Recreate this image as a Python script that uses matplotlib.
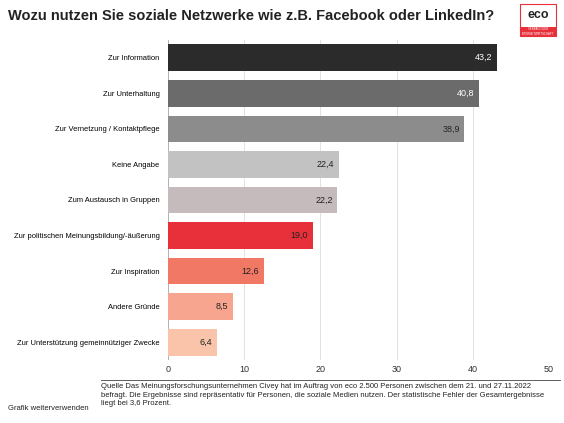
import matplotlib
matplotlib.use("Agg")
import matplotlib.pyplot as plt
from matplotlib.patches import Rectangle

categories = ["Zur Information", "Zur Unterhaltung", "Zur Vernetzung / Kontaktpflege",
              "Keine Angabe", "Zum Austausch in Gruppen",
              "Zur politischen Meinungsbildung/-äußerung", "Zur Inspiration",
              "Andere Gründe", "Zur Unterstützung gemeinnütziger Zwecke"]
values = [43.2, 40.8, 38.9, 22.4, 22.2, 19.0, 12.6, 8.5, 6.4]
colors = ["#2b2b2b", "#6b6b6b", "#8c8c8c", "#c2c2c2", "#c5babc",
          "#e8303a", "#f07864", "#f7a58e", "#f9c4aa"]
label_colors = ["white", "white", "#222222", "#222222", "#222222", "#222222", "#222222", "#222222", "#222222"]
xticks = [0, 10, 20, 30, 40, 50]

plt.rcParams['font.family'] = ['Liberation Sans', 'DejaVu Sans']
fig = plt.figure(figsize=(5.64, 4.23), dpi=100)
ax = fig.add_axes([168/564, 1-360/423, (549-168)/564, (360-40)/423])
y = list(range(len(categories)))
ax.barh(y, values, color=colors, height=0.75, zorder=3)
for yi, v, lc in zip(y, values, label_colors):
    ax.text(v - 0.6, yi, f"{v:.1f}".replace(".", ","), ha="right", va="center",
            fontsize=6.5, color=lc, zorder=4)
ax.set_yticks(y)
ax.set_yticklabels(categories, fontsize=5.4)
ax.set_ylim(len(categories) - 0.5, -0.5)
ax.set_xlim(0, 50)
ax.set_xticks(xticks)
ax.tick_params(axis="x", labelsize=6.5, length=0, colors="#333333")
ax.tick_params(axis="y", length=0, pad=6)
ax.grid(axis="x", color="#dddddd", linewidth=0.6, zorder=0)
for s in ax.spines.values():
    s.set_visible(False)
ax.axvline(0, color="#aaaaaa", linewidth=0.6, zorder=2)

fig.text(8/564, 1-16/423, "Wozu nutzen Sie soziale Netzwerke wie z.B. Facebook oder LinkedIn?",
         fontsize=10.5, fontweight="bold", va="center", ha="left", color="#222222")
fig.patches.append(Rectangle((520/564, 1-36/423), 36/564, 32/423, transform=fig.transFigure,
                             facecolor="white", edgecolor="#e8303a", linewidth=0.8))
fig.patches.append(Rectangle((520/564, 1-36/423), 36/564, 9/423, transform=fig.transFigure,
                             facecolor="#e8303a", edgecolor="none"))
fig.text(538/564, 1-15/423, "eco", fontsize=9, fontweight="bold", ha="center", va="center", color="#222222")
fig.text(538/564, 1-31.5/423, "VERBAND DER\nINTERNETWIRTSCHAFT", fontsize=2, ha="center", va="center", color="white")

fig.text(8/564, 1-408/423, "Grafik weiterverwenden", fontsize=5.5, color="#222222", va="center")
fig.text(101/564, 1-383/423,
         "Quelle Das Meinungsforschungsunternehmen Civey hat im Auftrag von eco 2.500 Personen zwischen dem 21. und 27.11.2022\n"
         "befragt. Die Ergebnisse sind repräsentativ für Personen, die soziale Medien nutzen. Der statistische Fehler der Gesamtergebnisse\n"
         "liegt bei 3,6 Prozent.", fontsize=5.5, color="#222222", va="top", linespacing=1.3)
fig.lines.append(plt.Line2D([101/564, 560/564], [1-380/423, 1-380/423], transform=fig.transFigure,
                            color="#444444", linewidth=0.6))
fig.savefig("out.png", dpi=100)
